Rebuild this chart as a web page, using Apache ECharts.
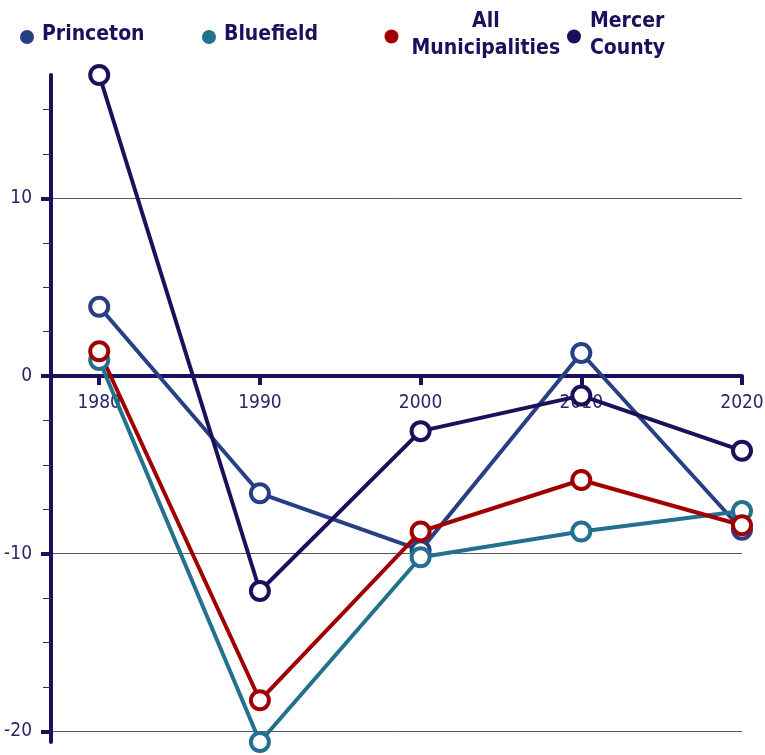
<!DOCTYPE html>
<html>
<head>
<meta charset="utf-8">
<script src="https://cdn.jsdelivr.net/npm/echarts@6/dist/echarts.min.js"></script>
<style>
  html, body { margin: 0; padding: 0; background: #fff; }
  #chart { width: 765px; height: 755px; }
</style>
</head>
<body>
<div id="chart"></div>
<script>
// Population change (%) by decade
const years = [1980, 1990, 2000, 2010, 2020];
const princeton = [3.9, -6.6, -9.8, 1.3, -8.65];
const bluefield = [0.9, -20.6, -10.2, -8.75, -7.6];
const allMunicipalities = [1.4, -18.25, -8.75, -5.85, -8.4];
const mercerCounty = [16.95, -12.1, -3.1, -1.1, -4.2];

const yTickValues = [-20, -10, 0, 10];
const yMinorTickValues = [-17.5, -15, -12.5, -7.5, -5, -2.5, 2.5, 5, 7.5, 12.5, 15];
const xTickValues = years;

const FONT = '"DejaVu Sans Condensed", "Liberation Sans", sans-serif';
const AXIS_COLOR = '#1c0f5b';
const LABEL_COLOR = '#2a2769';
const LEGEND_SIZE = 21;
const TICK_LABEL_SIZE = 19;

const seriesDefs = [
  { name: 'Princeton', values: princeton, color: '#283f84' },
  { name: 'Bluefield', values: bluefield, color: '#23708f' },
  { name: 'All Municipalities', values: allMunicipalities, color: '#a00000' },
  { name: 'Mercer County', values: mercerCounty, color: '#1c0f5b' }
];

const allValues = [].concat(princeton, bluefield, allMunicipalities, mercerCounty);
const yMin = Math.min.apply(null, allValues);
const yMax = Math.max.apply(null, allValues);

const chart = echarts.init(document.getElementById('chart'), null, { renderer: 'canvas' });

function legendFor(def, left, top, text, twoLine, padLeft) {
  return {
    data: [{ name: def.name, icon: 'circle', itemStyle: { color: def.color, borderWidth: 0 } }],
    left: left,
    top: top,
    padding: 0,
    itemWidth: 14,
    itemHeight: 14,
    selectedMode: false,
    formatter: function () { return text; },
    textStyle: {
      fontFamily: FONT,
      fontWeight: 'bold',
      fontSize: LEGEND_SIZE,
      lineHeight: 27,
      color: '#1c0f5b',
      padding: [0, 0, twoLine ? 2 : 4, padLeft],
      rich: {
        c: { fontFamily: FONT, fontWeight: 'bold', fontSize: LEGEND_SIZE, lineHeight: 27, color: '#1c0f5b', align: 'center' }
      }
    }
  };
}

const option = {
  animation: false,
  backgroundColor: '#fff',
  legend: [
    legendFor(seriesDefs[0], 20, 21.5, 'Princeton', false, 3),
    legendFor(seriesDefs[1], 202, 21.5, 'Bluefield', false, 3),
    legendFor(seriesDefs[2], 384.5, 8.5, '{c|All}\n{c|Municipalities}', true, 8),
    legendFor(seriesDefs[3], 567, 8.5, 'Mercer\nCounty', true, 4)
  ],
  grid: {
    left: 51,
    right: 23,
    top: 75,
    bottom: 13,
    containLabel: false,
    outerBoundsMode: 'none'
  },
  xAxis: {
    type: 'value',
    position: 'bottom',
    offset: 0,
    min: 1977,
    max: 2020,
    axisLine: { show: true, onZero: false, lineStyle: { color: AXIS_COLOR, width: 4 } },
    axisTick: { show: true, customValues: xTickValues, length: 9, lineStyle: { color: AXIS_COLOR, width: 4 } },
    axisLabel: {
      show: true,
      customValues: xTickValues,
      hideOverlap: false,
      margin: 17,
      fontFamily: FONT,
      fontSize: TICK_LABEL_SIZE,
      color: LABEL_COLOR,
      formatter: function (v) { return String(v); }
    },
    splitLine: { show: false }
  },
  yAxis: [
    {
      type: 'value',
      position: 'left',
      min: yMin,
      max: yMax,
      axisLine: { show: true, onZero: false, lineStyle: { color: AXIS_COLOR, width: 4 } },
      axisTick: { show: true, customValues: yTickValues, length: 10, lineStyle: { color: AXIS_COLOR, width: 4 } },
      axisLabel: {
        show: true,
        customValues: yTickValues,
        showMinLabel: true,
        showMaxLabel: true,
        margin: 19,
        fontFamily: FONT,
        fontSize: TICK_LABEL_SIZE,
        color: LABEL_COLOR,
        formatter: function (v) { return String(v); }
      },
      splitLine: { show: true, lineStyle: { color: '#595959', width: 1 } }
    },
    {
      type: 'value',
      position: 'left',
      min: yMin,
      max: yMax,
      axisLine: { show: false, onZero: false },
      axisTick: { show: true, customValues: yMinorTickValues, length: 8, lineStyle: { color: '#333', width: 1 } },
      axisLabel: { show: false },
      splitLine: { show: false }
    }
  ],
  series: seriesDefs.map(function (s) {
    return {
      name: s.name,
      type: 'line',
      yAxisIndex: 0,
      data: years.map(function (y, i) { return [y, s.values[i]]; }),
      symbol: 'circle',
      symbolSize: 18,
      showAllSymbol: true,
      lineStyle: { color: s.color, width: 4 },
      itemStyle: { color: '#fff', borderColor: s.color, borderWidth: 4 },
      emphasis: { disabled: true }
    };
  })
};

chart.setOption(option);

// Lift the year axis from the bottom edge of the plot up to the zero line
const zeroY = chart.convertToPixel({ yAxisIndex: 0 }, 0);
const floorY = chart.convertToPixel({ yAxisIndex: 0 }, yMin);
chart.setOption({ xAxis: { offset: zeroY - floorY } });
</script>
</body>
</html>
